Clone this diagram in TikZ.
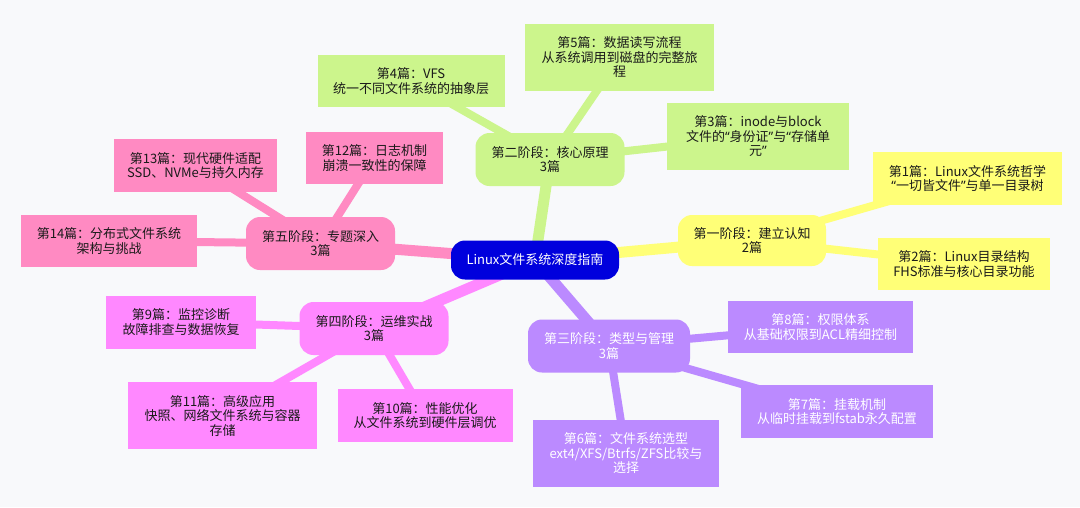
\documentclass[tikz,border=0pt]{standalone}
\usepackage{fontspec}
\setmainfont{Noto Sans CJK SC}
\newfontfamily\quotefont{Noto Sans}
\usetikzlibrary{backgrounds}
\definecolor{cbg}{HTML}{F8F9FB}
\definecolor{cnavy}{HTML}{0000DD}
\definecolor{cyellow}{HTML}{FFFF77}
\definecolor{cgreen}{HTML}{CCF58C}
\definecolor{cpink}{HTML}{FF8AC2}
\definecolor{cmagenta}{HTML}{FF88FF}
\definecolor{cpurple}{HTML}{BB8AFF}
\definecolor{ctext}{HTML}{1A1A1A}
\newcommand{\oq}{{\quotefont “}}
\newcommand{\cq}{{\quotefont ”}}
\tikzset{
  topic/.style={fill=#1, text=ctext, align=center, inner sep=0pt, font=\fontsize{13}{14.5}\selectfont},
  stage/.style={topic=#1, rounded corners=14pt, minimum width=149pt, minimum height=53pt},
  leaf/.style={topic=#1},
  link/.style={draw=#1, line width=8pt},
  trunk/.style={draw=#1, line width=11pt},
}
\begin{document}
\begin{tikzpicture}[x=1pt, y=-1pt]
  \useasboundingbox (0,0) rectangle (1080,507);
  \node[stage=cnavy, text=white, minimum width=168pt, minimum height=39pt] (root) at (535,260) {Linux文件系统深度指南};
  % stages
  \node[stage=cgreen] (s2) at (550,159.5) {第二阶段：核心原理\\3篇};
  \node[stage=cyellow, minimum width=148pt, minimum height=51pt] (s1) at (752,240.5) {第一阶段：建立认知\\2篇};
  \node[stage=cpink] (s5) at (320.5,243.5) {第五阶段：专题深入\\3篇};
  \node[stage=cmagenta] (s4) at (374,328.5) {第四阶段：运维实战\\3篇};
  \node[stage=cpurple, text=white, minimum width=162pt, minimum height=53pt] (s3) at (609,346) {第三阶段：类型与管理\\3篇};
  % articles
  \node[leaf=cgreen, minimum width=187pt, minimum height=52pt] (c4) at (411,81) {第4篇：VFS\\统一不同文件系统的抽象层};
  \node[leaf=cgreen, minimum width=189pt, minimum height=67pt] (c5) at (619.5,57.5) {第5篇：数据读写流程\\从系统调用到磁盘的完整旅\\程};
  \node[leaf=cgreen, minimum width=182pt, minimum height=67pt] (c3) at (758,136.5) {第3篇：inode与block\\文件的\oq 身份证\cq 与\oq 存储单\\元\cq};
  \node[leaf=cyellow, minimum width=189pt, minimum height=53pt] (c1) at (967.5,178.5) {第1篇：Linux文件系统哲学\\\oq 一切皆文件\cq 与单一目录树};
  \node[leaf=cyellow, minimum width=172pt, minimum height=52pt] (c2) at (964,264) {第2篇：Linux目录结构\\FHS标准与核心目录功能};
  \node[leaf=cpink, minimum width=163pt, minimum height=53pt] (c13) at (195.5,165.5) {第13篇：现代硬件适配\\SSD、NVMe与持久内存};
  \node[leaf=cpink, minimum width=137pt, minimum height=52pt] (c12) at (374.5,158) {第12篇：日志机制\\崩溃一致性的保障};
  \node[leaf=cpink, minimum width=176pt, minimum height=52pt] (c14) at (109,241) {第14篇：分布式文件系统\\架构与挑战};
  \node[leaf=cmagenta, minimum width=150pt, minimum height=53pt] (c9) at (181,322) {第9篇：监控诊断\\故障排查与数据恢复};
  \node[leaf=cmagenta, minimum width=189pt, minimum height=67pt] (c11) at (222.5,415.5) {第11篇：高级应用\\快照、网络文件系统与容器\\存储};
  \node[leaf=cmagenta, minimum width=175pt, minimum height=53pt] (c10) at (425,415.5) {第10篇：性能优化\\从文件系统到硬件层调优};
  \node[leaf=cpurple, text=white, minimum width=185pt, minimum height=52pt] (c8) at (820.5,327) {第8篇：权限体系\\从基础权限到ACL精细控制};
  \node[leaf=cpurple, text=white, minimum width=192pt, minimum height=53pt] (c7) at (837,411.5) {第7篇：挂载机制\\从临时挂载到fstab永久配置};
  \node[leaf=cpurple, text=white, minimum width=186pt, minimum height=67pt] (c6) at (626,453.5) {第6篇：文件系统选型\\ext4/XFS/Btrfs/ZFS比较与\\选择};
  \begin{scope}[on background layer]
    \fill[cbg] (0,0) rectangle (1080,507);
    \foreach \s/\col in {s1/cyellow, s2/cgreen, s3/cpurple, s4/cmagenta, s5/cpink}
      \draw[trunk=\col] (root.center) -- (\s.center);
    \foreach \s/\c/\col in {s2/c4/cgreen, s2/c5/cgreen, s2/c3/cgreen, s1/c1/cyellow, s1/c2/cyellow,
                            s5/c13/cpink, s5/c12/cpink, s5/c14/cpink, s4/c9/cmagenta, s4/c11/cmagenta,
                            s4/c10/cmagenta, s3/c8/cpurple, s3/c7/cpurple, s3/c6/cpurple}
      \draw[link=\col] (\s.center) -- (\c.center);
  \end{scope}
\end{tikzpicture}
\end{document}
